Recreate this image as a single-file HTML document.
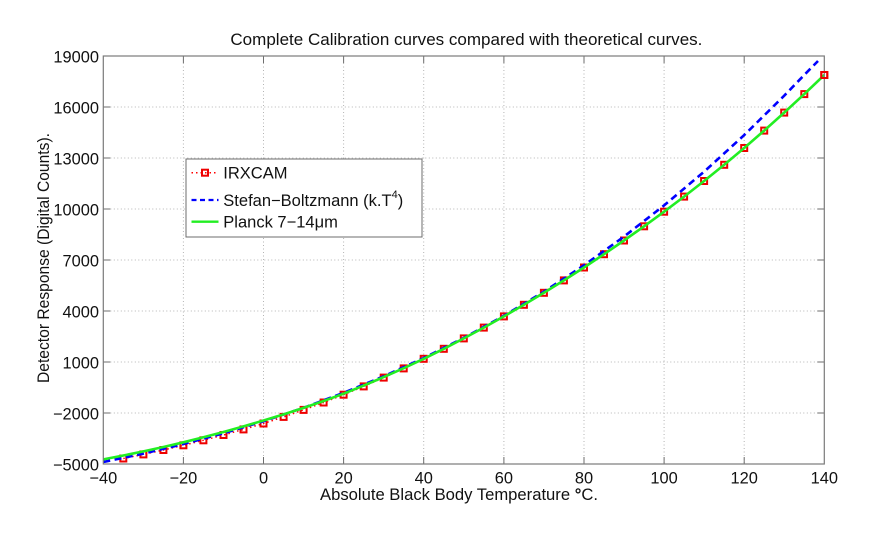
<!DOCTYPE html>
<html><head><meta charset="utf-8"><style>
html,body{margin:0;padding:0;background:#fff;}
svg{display:block;}
text{font-family:"Liberation Sans",Arial,sans-serif;fill:#111;}
</style></head><body>
<svg width="892" height="536" viewBox="0 0 892 536" xmlns="http://www.w3.org/2000/svg">
<rect x="0" y="0" width="892" height="536" fill="#fff"/>
<rect x="103.3" y="56" width="721" height="408" fill="#fff"/>
<g stroke="#b4b4b4" stroke-width="1" stroke-dasharray="1,2.5">
<line x1="183.4" y1="56" x2="183.4" y2="464"/>
<line x1="263.5" y1="56" x2="263.5" y2="464"/>
<line x1="343.6" y1="56" x2="343.6" y2="464"/>
<line x1="423.7" y1="56" x2="423.7" y2="464"/>
<line x1="503.9" y1="56" x2="503.9" y2="464"/>
<line x1="584.0" y1="56" x2="584.0" y2="464"/>
<line x1="664.1" y1="56" x2="664.1" y2="464"/>
<line x1="744.2" y1="56" x2="744.2" y2="464"/>
<line x1="103.3" y1="107" x2="824.3" y2="107"/>
<line x1="103.3" y1="158" x2="824.3" y2="158"/>
<line x1="103.3" y1="209" x2="824.3" y2="209"/>
<line x1="103.3" y1="260" x2="824.3" y2="260"/>
<line x1="103.3" y1="311" x2="824.3" y2="311"/>
<line x1="103.3" y1="362" x2="824.3" y2="362"/>
<line x1="103.3" y1="413" x2="824.3" y2="413"/>
</g>
<g stroke="#6e6e6e" stroke-width="1">
<path d="M183.4 464v-7M263.5 464v-7M343.6 464v-7M423.7 464v-7M503.9 464v-7M584.0 464v-7M664.1 464v-7M744.2 464v-7
M183.4 56v7M263.5 56v7M343.6 56v7M423.7 56v7M503.9 56v7M584.0 56v7M664.1 56v7M744.2 56v7
M103.3 107h7M103.3 158h7M103.3 209h7M103.3 260h7M103.3 311h7M103.3 362h7M103.3 413h7
M824.3 107h-7M824.3 158h-7M824.3 209h-7M824.3 260h-7M824.3 311h-7M824.3 362h-7M824.3 413h-7"/>
</g>
<defs><clipPath id="ax"><rect x="103.3" y="56" width="721" height="408"/></clipPath></defs>
<g clip-path="url(#ax)">
<polyline fill="none" stroke="#ff0000" stroke-width="1.5" stroke-dasharray="1.5,3" points="123.3,458.5 143.4,454.4 163.4,450.0 183.4,445.3 203.4,440.3 223.5,435.0 243.5,429.4 263.5,423.5 283.6,416.9 303.6,409.9 323.6,402.5 343.6,394.7 363.7,386.4 383.7,377.6 403.7,368.4 423.7,358.8 443.8,348.8 463.8,338.4 483.8,327.6 503.9,316.4 523.9,304.8 543.9,292.8 563.9,280.4 584.0,267.5 604.0,254.2 624.0,240.5 644.1,226.3 664.1,211.7 684.1,196.6 704.1,181.0 724.2,164.8 744.2,148.0 764.2,130.6 784.2,112.6 804.3,94.1 824.3,75.0"/>
</g>
<g fill="none" stroke="#ee0000" stroke-width="2">
<rect x="120.3" y="455.5" width="6" height="6"/>
<rect x="140.4" y="451.4" width="6" height="6"/>
<rect x="160.4" y="447.0" width="6" height="6"/>
<rect x="180.4" y="442.3" width="6" height="6"/>
<rect x="200.4" y="437.3" width="6" height="6"/>
<rect x="220.5" y="432.0" width="6" height="6"/>
<rect x="240.5" y="426.4" width="6" height="6"/>
<rect x="260.5" y="420.5" width="6" height="6"/>
<rect x="280.6" y="413.9" width="6" height="6"/>
<rect x="300.6" y="406.9" width="6" height="6"/>
<rect x="320.6" y="399.5" width="6" height="6"/>
<rect x="340.6" y="391.7" width="6" height="6"/>
<rect x="360.7" y="383.4" width="6" height="6"/>
<rect x="380.7" y="374.6" width="6" height="6"/>
<rect x="400.7" y="365.4" width="6" height="6"/>
<rect x="420.7" y="355.8" width="6" height="6"/>
<rect x="440.8" y="345.8" width="6" height="6"/>
<rect x="460.8" y="335.4" width="6" height="6"/>
<rect x="480.8" y="324.6" width="6" height="6"/>
<rect x="500.9" y="313.4" width="6" height="6"/>
<rect x="520.9" y="301.8" width="6" height="6"/>
<rect x="540.9" y="289.8" width="6" height="6"/>
<rect x="560.9" y="277.4" width="6" height="6"/>
<rect x="581.0" y="264.5" width="6" height="6"/>
<rect x="601.0" y="251.2" width="6" height="6"/>
<rect x="621.0" y="237.5" width="6" height="6"/>
<rect x="641.1" y="223.3" width="6" height="6"/>
<rect x="661.1" y="208.7" width="6" height="6"/>
<rect x="681.1" y="193.6" width="6" height="6"/>
<rect x="701.1" y="178.0" width="6" height="6"/>
<rect x="721.2" y="161.8" width="6" height="6"/>
<rect x="741.2" y="145.0" width="6" height="6"/>
<rect x="761.2" y="127.6" width="6" height="6"/>
<rect x="781.2" y="109.6" width="6" height="6"/>
<rect x="801.3" y="91.1" width="6" height="6"/>
<rect x="821.3" y="72.0" width="6" height="6"/>
</g>
<g clip-path="url(#ax)">
<polyline fill="none" stroke="#0000ff" stroke-width="2.6" stroke-dasharray="7,4.5" points="103.3,462.0 143.4,453.6 183.4,444.0 223.5,433.3 263.5,421.2 303.6,407.8 343.6,392.8 383.7,376.3 423.7,358.0 463.8,337.9 503.9,315.8 543.9,291.7 584.0,265.3 624.0,236.6 664.1,205.4 704.1,171.7 744.2,135.1 784.2,95.7 804.3,74.9 818,61"/>
<polyline fill="none" stroke="#22ee22" stroke-width="2.6" stroke-linejoin="round" points="103.3,459.4 123.3,455.5 143.4,451.4 163.4,447.0 183.4,442.3 203.4,437.3 223.5,432.0 243.5,426.4 263.5,420.5 283.6,414.4 303.6,407.9 323.6,401.0 343.6,393.7 363.7,385.6 383.7,377.1 403.7,368.2 423.7,358.8 443.8,348.8 463.8,338.4 483.8,327.6 503.9,316.4 523.9,304.8 543.9,292.8 563.9,280.4 584.0,267.5 604.0,254.2 624.0,240.5 644.1,226.3 664.1,211.7 684.1,196.6 704.1,181.0 724.2,164.8 744.2,148.0 764.2,130.6 784.2,112.6 804.3,94.1 824.3,75.0"/>
</g>
<rect x="103.3" y="56" width="721" height="408" fill="none" stroke="#7a7a7a" stroke-width="1.2"/>
<rect x="821.3" y="72.0" width="6" height="6" fill="none" stroke="#ee0000" stroke-width="2"/>
<g font-size="16.4" text-anchor="end">
<text x="99" y="62.5">19000</text>
<text x="99" y="113.5">16000</text>
<text x="99" y="164.5">13000</text>
<text x="99" y="215.5">10000</text>
<text x="99" y="266.5">7000</text>
<text x="99" y="317.5">4000</text>
<text x="99" y="368.5">1000</text>
<text x="99" y="419.5">−2000</text>
<text x="99" y="470.5">−5000</text>
</g>
<g font-size="16.4" text-anchor="middle">
<text x="103.3" y="483.5">−40</text>
<text x="183.4" y="483.5">−20</text>
<text x="263.5" y="483.5">0</text>
<text x="343.6" y="483.5">20</text>
<text x="423.7" y="483.5">40</text>
<text x="503.9" y="483.5">60</text>
<text x="584.0" y="483.5">80</text>
<text x="664.1" y="483.5">100</text>
<text x="744.2" y="483.5">120</text>
<text x="824.3" y="483.5">140</text>
</g>
<text x="466.4" y="45" font-size="17" text-anchor="middle" textLength="472" lengthAdjust="spacingAndGlyphs">Complete Calibration curves compared with theoretical curves.</text>
<text x="459" y="500" font-size="16.7" text-anchor="middle" textLength="278" lengthAdjust="spacingAndGlyphs">Absolute Black Body Temperature <tspan font-weight="bold">°</tspan>C.</text>
<text x="0" y="0" font-size="16.4" text-anchor="middle" transform="translate(49,258) rotate(-90)" textLength="250" lengthAdjust="spacingAndGlyphs">Detector Response (Digital Counts).</text>
<rect x="186" y="159" width="236" height="78" fill="#fff" stroke="#6e6e6e" stroke-width="1"/>
<line x1="191.5" y1="172.7" x2="218.5" y2="172.7" stroke="#ff0000" stroke-width="1.5" stroke-dasharray="1.5,3"/>
<rect x="202" y="169.7" width="6" height="6" fill="none" stroke="#ee0000" stroke-width="2"/>
<line x1="191.5" y1="200" x2="218.5" y2="200" stroke="#0000ff" stroke-width="2.2" stroke-dasharray="5,3.5"/>
<line x1="191.5" y1="221.7" x2="218.5" y2="221.7" stroke="#22ee22" stroke-width="2.4"/>
<g font-size="16.5">
<text x="223.3" y="178.5">IRXCAM</text>
<text x="223.3" y="206">Stefan−Boltzmann (k.T<tspan font-size="11" dy="-8">4</tspan><tspan dy="8">)</tspan></text>
<text x="223.3" y="227.5">Planck 7−14μm</text>
</g>
</svg>
</body></html>
